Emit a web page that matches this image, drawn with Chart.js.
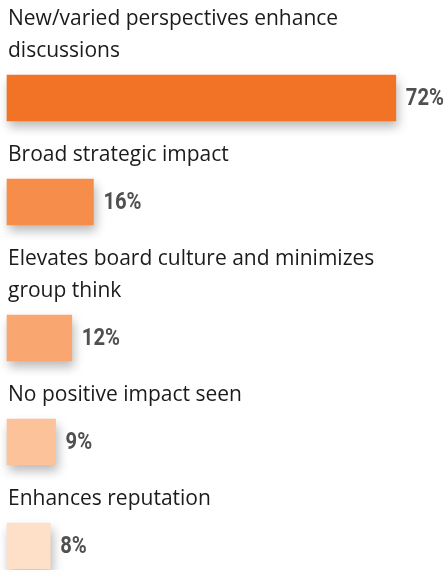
<!DOCTYPE html>
<html>
<head>
<meta charset="utf-8">
<script src="https://cdn.jsdelivr.net/npm/chart.js@4"></script>
<style>
    html, body { margin: 0; padding: 0; background: #fff; overflow: hidden; }
    #rows { width: 446px; }
    .row { position: relative; width: 446px; }
</style>
</head>
<body>
<div id="rows"></div>
<script>
// Survey: perceived impact of board diversity
const categories = [
    ['New/varied perspectives enhance', 'discussions'],
    ['Broad strategic impact'],
    ['Elevates board culture and minimizes', 'group think'],
    ['No positive impact seen'],
    ['Enhances reputation']
];
const values = [72, 16, 12, 9, 8];
const axisMax = 80;

const barColors = ['#F37326', '#F78D4A', '#F9A670', '#FCC39B', '#FEDFC8'];

const LINE_H = 32;
const LABEL_FONT = '21px "Open Sans", "Liberation Sans", sans-serif';
const VALUE_FONT = 'bold 23px Roboto, "Liberation Sans", sans-serif';
const VALUE_SQUEEZE = 0.88; // the original uses a condensed face

// draw the category text above the bar and the value at its end
const rowLabels = {
    id: 'rowLabels',
    beforeDatasetsDraw(chart) {
        const ctx = chart.ctx;
        ctx.save();
        ctx.shadowColor = 'rgba(0, 0, 0, 0.28)';
        ctx.shadowBlur = 10;
        ctx.shadowOffsetX = 2;
        ctx.shadowOffsetY = 6;
    },
    afterDatasetsDraw(chart) {
        chart.ctx.restore();
    },
    afterDraw(chart, args, opts) {
        const ctx = chart.ctx;
        ctx.save();
        ctx.textBaseline = 'middle';
        ctx.fillStyle = '#1b1b1b';
        ctx.font = LABEL_FONT;
        opts.lines.forEach((line, k) => {
            ctx.fillText(line, 8, 19 + k * LINE_H);
        });
        const bar = chart.getDatasetMeta(0).data[0];
        ctx.fillStyle = '#505050';
        ctx.font = VALUE_FONT;
        ctx.translate(bar.x + 10, bar.y + 1);
        ctx.scale(VALUE_SQUEEZE, 1);
        ctx.fillText(opts.value + '%', 0, 0);
        ctx.restore();
    }
};

const holder = document.getElementById('rows');

categories.forEach((lines, i) => {
    const row = document.createElement('div');
    row.className = 'row';
    row.style.height = (104 + (lines.length - 1) * LINE_H) + 'px';
    const canvas = document.createElement('canvas');
    row.appendChild(canvas);
    holder.appendChild(row);

    new Chart(canvas, {
        type: 'bar',
        data: {
            labels: [lines.join(' ')],
            datasets: [{
                data: [values[i]],
                backgroundColor: barColors[i],
                borderWidth: 0,
                barPercentage: 1,
                categoryPercentage: 1,
                clip: false
            }]
        },
        options: {
            indexAxis: 'y',
            responsive: true,
            maintainAspectRatio: false,
            animation: false,
            layout: {
                padding: {
                    top: 43 + (lines.length - 1) * LINE_H,
                    bottom: 15,
                    left: 7,
                    right: 7
                }
            },
            scales: {
                x: { display: false, min: 0, max: axisMax },
                y: { display: false }
            },
            plugins: {
                legend: { display: false },
                tooltip: { enabled: false },
                rowLabels: { lines: lines, value: values[i] }
            }
        },
        plugins: [rowLabels]
    });
});
</script>
</body>
</html>
